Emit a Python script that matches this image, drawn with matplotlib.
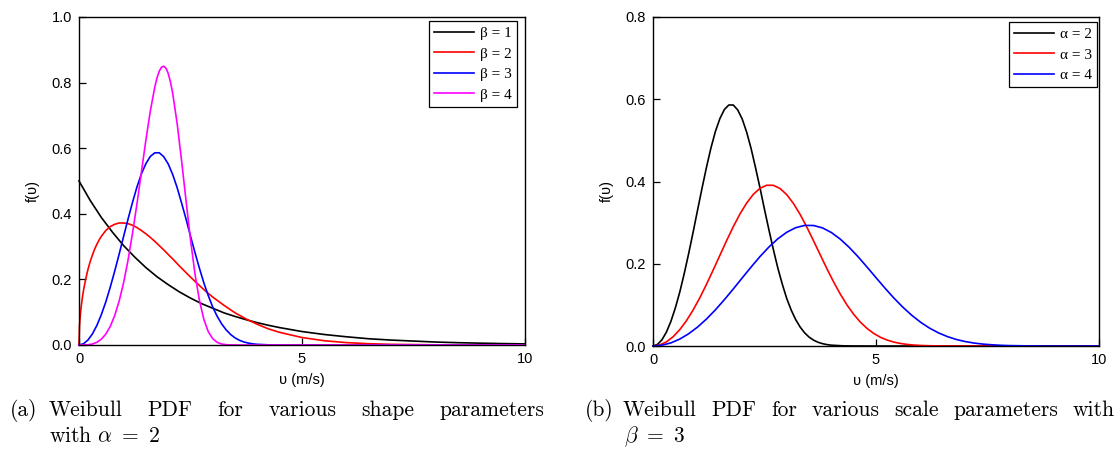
import numpy as np
import matplotlib
matplotlib.use("Agg")
import matplotlib.pyplot as plt

plt.rcParams['mathtext.fontset'] = 'cm'
plt.rcParams['font.family'] = ['Liberation Sans', 'DejaVu Sans']

# === Painel (a): alpha = 2, varios beta ===
x_b1 = [0, 0.25, 0.5, 0.75, 1, 1.25, 1.5, 1.75, 2, 2.25, 2.5, 2.75, 3, 3.25, 3.5, 3.75,
        4, 4.25, 4.5, 5, 5.5, 6, 6.5, 7, 7.5, 8, 8.5, 9, 9.5, 10]
y_b1 = [0.500, 0.441, 0.389, 0.344, 0.303, 0.268, 0.236, 0.208, 0.184, 0.162, 0.143,
        0.126, 0.112, 0.098, 0.087, 0.077, 0.068, 0.060, 0.053, 0.041, 0.032, 0.025,
        0.019, 0.015, 0.012, 0.009, 0.007, 0.0056, 0.0043, 0.0034]

x_b2 = [0, 0.01, 0.02, 0.035, 0.05, 0.075, 0.1, 0.15, 0.2, 0.25, 0.3, 0.35, 0.4, 0.45,
        0.5, 0.6, 0.7, 0.8, 0.9, 1.0, 1.1, 1.2, 1.3, 1.4, 1.5, 1.6, 1.7, 1.8, 1.9, 2.0,
        2.125, 2.25, 2.375, 2.5, 2.625, 2.75, 2.875, 3.0, 3.25, 3.5, 3.75, 4.0, 4.25,
        4.5, 5.0, 5.5, 6.0, 6.5, 7.0, 8.0, 9.0, 10.0]
y_b2 = [0, 0.053, 0.075, 0.099, 0.118, 0.144, 0.166, 0.201, 0.230, 0.254, 0.274, 0.292,
        0.307, 0.320, 0.331, 0.349, 0.361, 0.368, 0.372, 0.372, 0.370, 0.365, 0.358,
        0.349, 0.339, 0.328, 0.316, 0.303, 0.290, 0.276, 0.259, 0.241, 0.224, 0.207,
        0.191, 0.175, 0.160, 0.146, 0.121, 0.098, 0.079, 0.063, 0.049, 0.0385, 0.0228,
        0.0130, 0.0072, 0.0039, 0.0020, 0.0005, 0.0001, 0.0]

x_b3 = [0, 0.1, 0.2, 0.3, 0.4, 0.5, 0.6, 0.7, 0.8, 0.9, 1.0, 1.1, 1.2, 1.3, 1.4, 1.5,
        1.6, 1.7, 1.8, 1.9, 2.0, 2.1, 2.2, 2.3, 2.4, 2.5, 2.6, 2.7, 2.8, 2.9, 3.0, 3.1,
        3.2, 3.3, 3.4, 3.5, 3.6, 3.7, 3.8, 3.9, 4.0, 4.25, 4.5, 5.0, 10.0]
y_b3 = [0, 0.0038, 0.0150, 0.0336, 0.0595, 0.0923, 0.131, 0.176, 0.225, 0.277, 0.331,
        0.384, 0.435, 0.482, 0.522, 0.553, 0.575, 0.586, 0.586, 0.574, 0.552, 0.520,
        0.480, 0.433, 0.384, 0.332, 0.282, 0.234, 0.189, 0.150, 0.115, 0.087, 0.064,
        0.046, 0.032, 0.0216, 0.0142, 0.0091, 0.0057, 0.0034, 0.0020, 0.0005, 0.0001,
        0.0, 0.0]

x_b4 = [0, 0.2, 0.3, 0.4, 0.5, 0.6, 0.7, 0.8, 0.9, 1.0, 1.1, 1.2, 1.3, 1.4, 1.5, 1.6,
        1.7, 1.75, 1.8, 1.85, 1.9, 1.95, 2.0, 2.05, 2.1, 2.2, 2.3, 2.4, 2.5, 2.6, 2.7,
        2.8, 2.9, 3.0, 3.1, 3.2, 3.3, 3.4, 3.6, 10.0]
y_b4 = [0, 0.0007, 0.0029, 0.0081, 0.0176, 0.0331, 0.0566, 0.0896, 0.134, 0.190, 0.259,
        0.341, 0.431, 0.528, 0.625, 0.714, 0.787, 0.815, 0.835, 0.847, 0.850, 0.844,
        0.828, 0.802, 0.768, 0.676, 0.562, 0.440, 0.321, 0.217, 0.136, 0.0775, 0.0402,
        0.0189, 0.0079, 0.0029, 0.0010, 0.0003, 0.0, 0.0]

series_a = [(x_b1, y_b1, 'black', 'β = 1'),
            (x_b2, y_b2, 'red', 'β = 2'),
            (x_b3, y_b3, 'blue', 'β = 3'),
            (x_b4, y_b4, 'magenta', 'β = 4')]

# === Painel (b): beta = 3, varios alpha ===
x_a2 = x_b3
y_a2 = y_b3

x_a3 = [0, 0.15, 0.3, 0.45, 0.6, 0.75, 0.9, 1.05, 1.2, 1.35, 1.5, 1.65, 1.8, 1.95, 2.1,
        2.25, 2.4, 2.55, 2.7, 2.85, 3.0, 3.15, 3.3, 3.45, 3.6, 3.75, 3.9, 4.05, 4.2, 4.35,
        4.5, 4.65, 4.8, 4.95, 5.1, 5.25, 5.4, 5.55, 5.7, 5.85, 6.0, 6.3, 6.6, 10.0]
y_a3 = [0, 0.0025, 0.0100, 0.0224, 0.0397, 0.0615, 0.0876, 0.1174, 0.1501, 0.1849,
        0.2206, 0.2561, 0.2901, 0.3211, 0.3477, 0.3689, 0.3836, 0.3909, 0.3907, 0.3829,
        0.3679, 0.3464, 0.3197, 0.2890, 0.2557, 0.2216, 0.1878, 0.1556, 0.1261, 0.0997,
        0.0770, 0.0580, 0.0426, 0.0305, 0.0212, 0.0144, 0.0095, 0.0061, 0.0038, 0.0023,
        0.0013, 0.0004, 0.0001, 0.0]

x_a4 = [0, 0.2, 0.4, 0.6, 0.8, 1.0, 1.2, 1.4, 1.6, 1.8, 2.0, 2.2, 2.4, 2.6, 2.8, 3.0,
        3.2, 3.4, 3.6, 3.8, 4.0, 4.2, 4.4, 4.6, 4.8, 5.0, 5.2, 5.4, 5.6, 5.8, 6.0, 6.2,
        6.4, 6.6, 6.8, 7.0, 7.2, 7.4, 7.6, 7.8, 8.0, 8.4, 8.8, 10.0]
y_a4 = [0, 0.0019, 0.0075, 0.0168, 0.0298, 0.0461, 0.0657, 0.0880, 0.1126, 0.1387,
        0.1655, 0.1921, 0.2176, 0.2408, 0.2608, 0.2767, 0.2877, 0.2932, 0.2930, 0.2872,
        0.2759, 0.2598, 0.2398, 0.2168, 0.1918, 0.1662, 0.1409, 0.1167, 0.0946, 0.0748,
        0.0578, 0.0435, 0.0320, 0.0229, 0.0159, 0.0108, 0.0071, 0.0046, 0.0029, 0.0017,
        0.0010, 0.0003, 0.0001, 0.0]

series_b = [(x_a2, y_a2, 'black', 'α = 2'),
            (x_a3, y_a3, 'red', 'α = 3'),
            (x_a4, y_a4, 'blue', 'α = 4')]

# === Figura ===
W, H = 1120, 453
fig = plt.figure(figsize=(W / 100, H / 100), dpi=100)
ax1 = fig.add_axes([79 / W, 1 - 345 / H, 446 / W, 328 / H])
ax2 = fig.add_axes([653 / W, 1 - 346 / H, 446 / W, 329 / H])


def estilo(ax, series, ymax, yticks, leg_anchor):
    for xs, ys, cor, rot in series:
        ax.plot(xs, ys, color=cor, lw=1.2, label=rot, clip_on=False)
    ax.set_xlim(0, 10)
    ax.set_ylim(0, ymax)
    ax.set_xticks([0, 5, 10])
    ax.set_yticks(yticks)
    ax.set_yticklabels(['%.1f' % t for t in yticks])
    ax.tick_params(direction='in', length=5, width=0.9, labelsize=10.5, pad=5)
    for s in ax.spines.values():
        s.set_linewidth(1.0)
    ax.set_xlabel('υ (m/s)', fontsize=10.5)
    ax.set_ylabel('f(υ)', fontsize=10.5)
    ax.xaxis.set_label_coords(0.5, -0.085)
    ax.yaxis.set_label_coords(-0.087, 0.47)
    leg = ax.legend(loc='upper right', bbox_to_anchor=leg_anchor, borderaxespad=0,
                    fancybox=False, framealpha=1, edgecolor='black',
                    prop={'family': ['Liberation Serif', 'DejaVu Serif'], 'size': 11},
                    handlelength=2.6, handletextpad=0.4, labelspacing=0.45,
                    borderpad=0.35)
    leg.get_frame().set_linewidth(0.9)


estilo(ax1, series_a, 1.0, [0.0, 0.2, 0.4, 0.6, 0.8, 1.0], (0.982, 0.988))
estilo(ax2, series_b, 0.8, [0.0, 0.2, 0.4, 0.6, 0.8], (0.996, 0.985))

# === Legendas (a) e (b) ===
cap_font = dict(family='cmr10', fontsize=15.5)
renderer = fig.canvas.get_renderer()


def justificar(palavras, x0, x1, ybase):
    textos = [fig.text(0, ybase, p, va='baseline', **cap_font) for p in palavras]
    larg = [t.get_window_extent(renderer).width for t in textos]
    gap = (x1 - x0 - sum(larg)) / (len(palavras) - 1)
    x = x0
    for t, w in zip(textos, larg):
        t.set_x(x / W)
        x += w + gap


y1 = 1 - 416 / H
y2 = 1 - 442 / H
fig.text(10 / W, y1, '(a)', va='baseline', **cap_font)
justificar(['Weibull', 'PDF', 'for', 'various', 'shape', 'parameters'], 49, 544, y1)
fig.text(49 / W, y2, r'with $\alpha\ =\ 2$', va='baseline', **cap_font)

fig.text(585 / W, y1, '(b)', va='baseline', **cap_font)
justificar(['Weibull', 'PDF', 'for', 'various', 'scale', 'parameters', 'with'], 623, 1115, y1)
fig.text(624 / W, y2, r'$\beta\ =\ 3$', va='baseline', **cap_font)

fig.savefig('out.png', dpi=100)
